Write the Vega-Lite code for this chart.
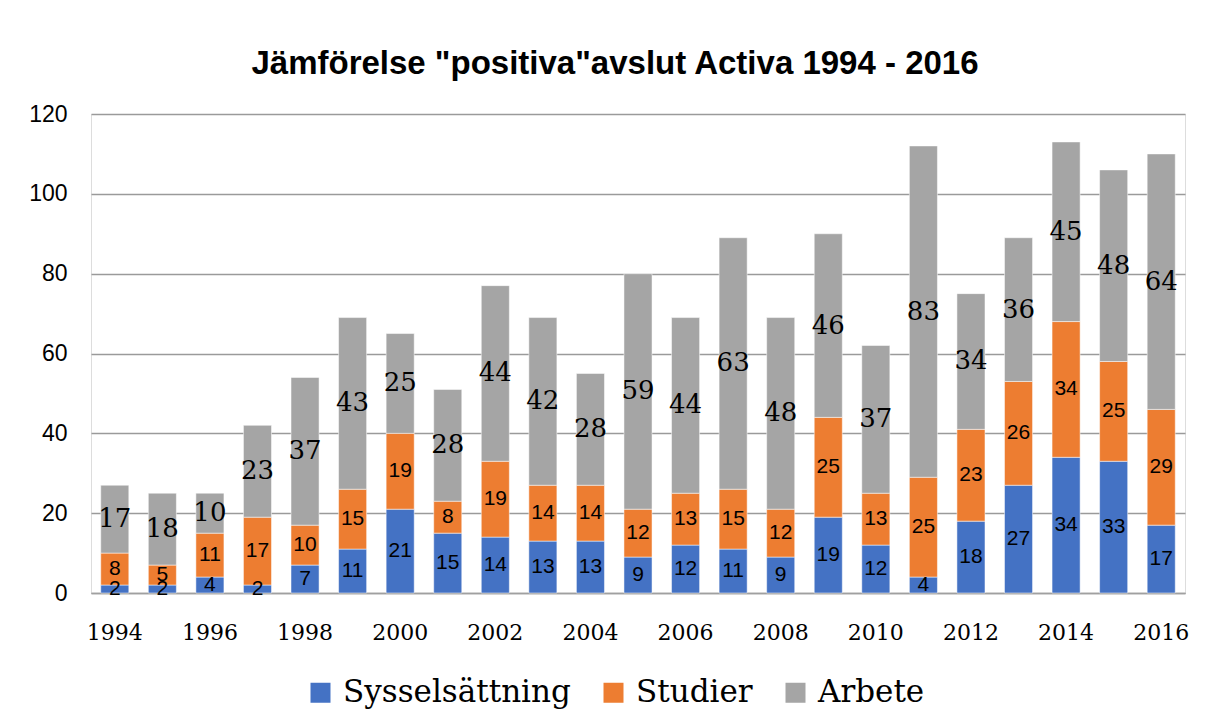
{
  "$schema": "https://vega.github.io/schema/vega-lite/v6.json",
  "width": 1094,
  "height": 479,
  "autosize": {"type": "none"},
  "padding": {"left": 91, "top": 114, "right": 20, "bottom": 134},
  "background": "white",
  "title": {
    "text": "Jämförelse \"positiva\"avslut Activa 1994 - 2016",
    "font": "Liberation Sans",
    "fontSize": 33,
    "fontWeight": "bold",
    "color": "#000000",
    "anchor": "middle",
    "dx": -23,
    "offset": 22
  },
  "data": {
    "values": [
      {"year": "1994", "cat": "Sysselsättning", "ord": 1, "value": 2},
      {"year": "1994", "cat": "Studier", "ord": 2, "value": 8},
      {"year": "1994", "cat": "Arbete", "ord": 3, "value": 17},
      {"year": "1995", "cat": "Sysselsättning", "ord": 1, "value": 2},
      {"year": "1995", "cat": "Studier", "ord": 2, "value": 5},
      {"year": "1995", "cat": "Arbete", "ord": 3, "value": 18},
      {"year": "1996", "cat": "Sysselsättning", "ord": 1, "value": 4},
      {"year": "1996", "cat": "Studier", "ord": 2, "value": 11},
      {"year": "1996", "cat": "Arbete", "ord": 3, "value": 10},
      {"year": "1997", "cat": "Sysselsättning", "ord": 1, "value": 2},
      {"year": "1997", "cat": "Studier", "ord": 2, "value": 17},
      {"year": "1997", "cat": "Arbete", "ord": 3, "value": 23},
      {"year": "1998", "cat": "Sysselsättning", "ord": 1, "value": 7},
      {"year": "1998", "cat": "Studier", "ord": 2, "value": 10},
      {"year": "1998", "cat": "Arbete", "ord": 3, "value": 37},
      {"year": "1999", "cat": "Sysselsättning", "ord": 1, "value": 11},
      {"year": "1999", "cat": "Studier", "ord": 2, "value": 15},
      {"year": "1999", "cat": "Arbete", "ord": 3, "value": 43},
      {"year": "2000", "cat": "Sysselsättning", "ord": 1, "value": 21},
      {"year": "2000", "cat": "Studier", "ord": 2, "value": 19},
      {"year": "2000", "cat": "Arbete", "ord": 3, "value": 25},
      {"year": "2001", "cat": "Sysselsättning", "ord": 1, "value": 15},
      {"year": "2001", "cat": "Studier", "ord": 2, "value": 8},
      {"year": "2001", "cat": "Arbete", "ord": 3, "value": 28},
      {"year": "2002", "cat": "Sysselsättning", "ord": 1, "value": 14},
      {"year": "2002", "cat": "Studier", "ord": 2, "value": 19},
      {"year": "2002", "cat": "Arbete", "ord": 3, "value": 44},
      {"year": "2003", "cat": "Sysselsättning", "ord": 1, "value": 13},
      {"year": "2003", "cat": "Studier", "ord": 2, "value": 14},
      {"year": "2003", "cat": "Arbete", "ord": 3, "value": 42},
      {"year": "2004", "cat": "Sysselsättning", "ord": 1, "value": 13},
      {"year": "2004", "cat": "Studier", "ord": 2, "value": 14},
      {"year": "2004", "cat": "Arbete", "ord": 3, "value": 28},
      {"year": "2005", "cat": "Sysselsättning", "ord": 1, "value": 9},
      {"year": "2005", "cat": "Studier", "ord": 2, "value": 12},
      {"year": "2005", "cat": "Arbete", "ord": 3, "value": 59},
      {"year": "2006", "cat": "Sysselsättning", "ord": 1, "value": 12},
      {"year": "2006", "cat": "Studier", "ord": 2, "value": 13},
      {"year": "2006", "cat": "Arbete", "ord": 3, "value": 44},
      {"year": "2007", "cat": "Sysselsättning", "ord": 1, "value": 11},
      {"year": "2007", "cat": "Studier", "ord": 2, "value": 15},
      {"year": "2007", "cat": "Arbete", "ord": 3, "value": 63},
      {"year": "2008", "cat": "Sysselsättning", "ord": 1, "value": 9},
      {"year": "2008", "cat": "Studier", "ord": 2, "value": 12},
      {"year": "2008", "cat": "Arbete", "ord": 3, "value": 48},
      {"year": "2009", "cat": "Sysselsättning", "ord": 1, "value": 19},
      {"year": "2009", "cat": "Studier", "ord": 2, "value": 25},
      {"year": "2009", "cat": "Arbete", "ord": 3, "value": 46},
      {"year": "2010", "cat": "Sysselsättning", "ord": 1, "value": 12},
      {"year": "2010", "cat": "Studier", "ord": 2, "value": 13},
      {"year": "2010", "cat": "Arbete", "ord": 3, "value": 37},
      {"year": "2011", "cat": "Sysselsättning", "ord": 1, "value": 4},
      {"year": "2011", "cat": "Studier", "ord": 2, "value": 25},
      {"year": "2011", "cat": "Arbete", "ord": 3, "value": 83},
      {"year": "2012", "cat": "Sysselsättning", "ord": 1, "value": 18},
      {"year": "2012", "cat": "Studier", "ord": 2, "value": 23},
      {"year": "2012", "cat": "Arbete", "ord": 3, "value": 34},
      {"year": "2013", "cat": "Sysselsättning", "ord": 1, "value": 27},
      {"year": "2013", "cat": "Studier", "ord": 2, "value": 26},
      {"year": "2013", "cat": "Arbete", "ord": 3, "value": 36},
      {"year": "2014", "cat": "Sysselsättning", "ord": 1, "value": 34},
      {"year": "2014", "cat": "Studier", "ord": 2, "value": 34},
      {"year": "2014", "cat": "Arbete", "ord": 3, "value": 45},
      {"year": "2015", "cat": "Sysselsättning", "ord": 1, "value": 33},
      {"year": "2015", "cat": "Studier", "ord": 2, "value": 25},
      {"year": "2015", "cat": "Arbete", "ord": 3, "value": 48},
      {"year": "2016", "cat": "Sysselsättning", "ord": 1, "value": 17},
      {"year": "2016", "cat": "Studier", "ord": 2, "value": 29},
      {"year": "2016", "cat": "Arbete", "ord": 3, "value": 64}
    ]
  },
  "encoding": {
    "x": {
      "field": "year",
      "type": "ordinal",
      "title": null,
      "scale": {"paddingInner": 0.41, "paddingOuter": 0.205},
      "axis": {
        "labelAngle": 0,
        "labelExpr": "toNumber(datum.value) % 2 === 0 ? datum.value : ''",
        "labelFont": "DejaVu Serif",
        "labelFontSize": 22,
        "labelColor": "#000000",
        "labelPadding": 29,
        "ticks": false,
        "domainColor": "#A0A0A0",
        "domainWidth": 1.5,
        "grid": false
      }
    },
    "y": {
      "field": "value",
      "type": "quantitative",
      "stack": "zero",
      "scale": {"domain": [0, 120]},
      "title": null,
      "axis": {
        "values": [0, 20, 40, 60, 80, 100, 120],
        "labelFont": "Liberation Sans",
        "labelFontSize": 23,
        "labelColor": "#000000",
        "labelPadding": 24,
        "ticks": false,
        "domain": false,
        "grid": true,
        "gridColor": "#9A9A9A",
        "gridWidth": 1.3
      }
    },
    "order": {"field": "ord", "type": "quantitative"}
  },
  "layer": [
    {
      "mark": {"type": "bar", "stroke": "#FFFFFF", "strokeWidth": 0.5},
      "encoding": {
        "color": {
          "field": "cat",
          "type": "nominal",
          "sort": ["Sysselsättning", "Studier", "Arbete"],
          "scale": {"domain": ["Sysselsättning", "Studier", "Arbete"], "range": ["#4472C4", "#ED7D31", "#A5A5A5"]},
          "legend": {
            "title": null,
            "orient": "none",
            "legendX": 214,
            "legendY": 563,
            "direction": "horizontal",
            "symbolType": "square",
            "symbolSize": 400,
            "symbolStrokeWidth": 0,
            "labelFont": "DejaVu Serif",
            "labelFontSize": 31,
            "labelColor": "#000000",
            "labelOffset": 7,
            "columnPadding": 27,
            "labelLimit": 400
          }
        }
      }
    },
    {
      "mark": {"type": "text", "font": "Liberation Sans", "fontSize": 21, "color": "#000000", "baseline": "middle", "align": "center"},
      "encoding": {
        "y": {"field": "value", "type": "quantitative", "stack": "zero", "bandPosition": 0.5},
        "text": {
          "condition": {"test": "datum.cat !== 'Arbete'", "field": "value", "type": "quantitative"},
          "value": ""
        }
      }
    },
    {
      "mark": {"type": "text", "font": "DejaVu Serif", "fontSize": 26, "color": "#000000", "baseline": "middle", "align": "center"},
      "encoding": {
        "y": {"field": "value", "type": "quantitative", "stack": "zero", "bandPosition": 0.5},
        "text": {
          "condition": {"test": "datum.cat === 'Arbete'", "field": "value", "type": "quantitative"},
          "value": ""
        }
      }
    }
  ]
}
